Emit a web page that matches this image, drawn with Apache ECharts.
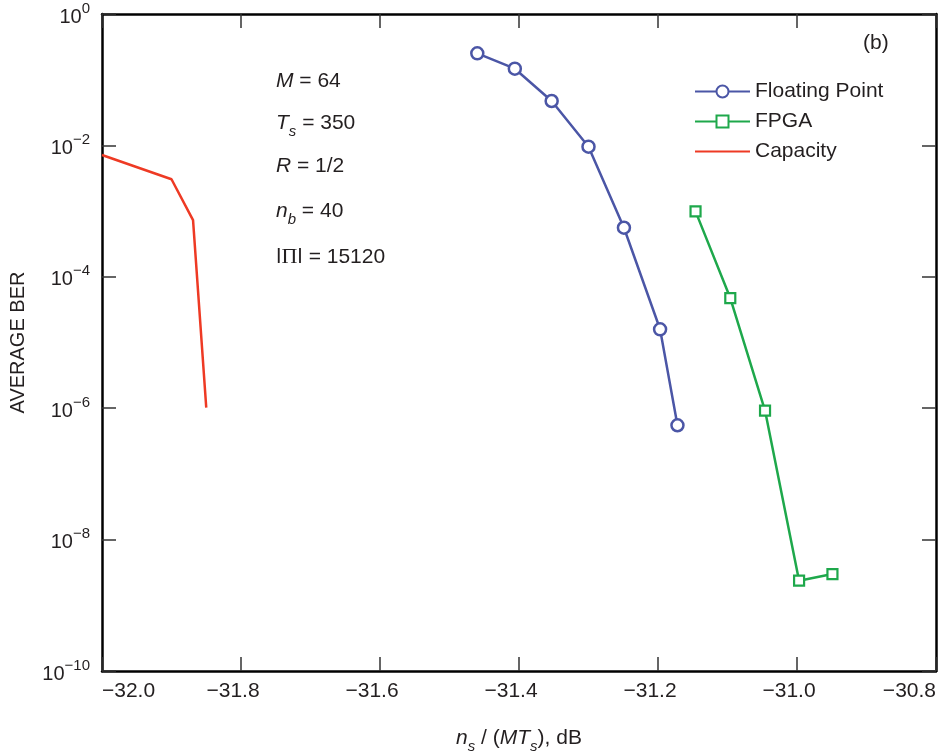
<!DOCTYPE html>
<html><head><meta charset="utf-8">
<script src="https://cdn.jsdelivr.net/npm/echarts@6/dist/echarts.min.js"></script>
<style>html,body{margin:0;padding:0;background:#fff}#c{width:939px;height:751px}</style>
</head><body><div id="c"></div>
<script>
// ---- data ----
const floatX = [-31.46, -31.406, -31.353, -31.30, -31.249, -31.197, -31.172];
const floatY = [0.252, 0.147, 0.0474, 0.00955, 5.58e-4, 1.59e-5, 5.5e-7];
const fpgaX = [-31.146, -31.096, -31.046, -30.997, -30.949];
const fpgaY = [9.9e-4, 4.75e-5, 9.2e-7, 2.37e-9, 2.99e-9];
const capX = [-32.0, -31.90, -31.869, -31.85];
const capY = [7.14e-3, 3.05e-3, 7.3e-4, 1.02e-6];
const seriesNames = ['Floating Point', 'FPGA', 'Capacity'];
const xMin = -32.0, xMax = -30.8, xStep = 0.2;
const yMin = 1e-10, yMax = 1;

const FONT = 'Liberation Sans, Arial, Helvetica, sans-serif';
const TXT = '#231f20';
const BLUE = '#4b56a6', GREEN = '#1ea84b', RED = '#ee3a24';

function pairs(xs, ys) { return xs.map((x, i) => [x, ys[i]]); }
function minusFmt(v) { return (v < 0 ? '\u2212' : '') + Math.abs(v).toFixed(1); }

const chart = echarts.init(document.getElementById('c'), null, { renderer: 'canvas' });

const axisLineStyle = { show: true, lineStyle: { color: '#000', width: 2.5 } };
const tickStyle = { show: true, inside: true, length: 14, lineStyle: { color: '#333', width: 1.5 } };

const baseRich = {
  r: { fontFamily: FONT, fontSize: 21, color: TXT, lineHeight: 24 },
  i: { fontFamily: FONT, fontSize: 21, color: TXT, fontStyle: 'italic', lineHeight: 24 },
  sub: { fontFamily: FONT, fontSize: 15, color: TXT, fontStyle: 'italic', verticalAlign: 'bottom', lineHeight: 15, padding: [0, 0, -4, 0] },
  p: { fontFamily: 'Liberation Serif, DejaVu Serif, serif', fontSize: 22, color: TXT, lineHeight: 24 }
};

const noteRich = [
  '{i|M}{r| = 64}',
  '{i|T}{sub|s}{r| = 350}',
  '{i|R}{r| = 1/2}',
  '{i|n}{sub|b}{r| = 40}',
  '{r|ǀ}{p|Π}{r|ǀ = 15120}'
];
const noteY = [83, 125, 168, 213, 258];

const option = {
  animation: false,
  backgroundColor: '#fff',
  grid: { left: 102, right: 3, top: 14, bottom: 80, containLabel: false, outerBoundsMode: 'none' },
  legend: {
    orient: 'vertical', left: 694, top: 81, padding: 0,
    itemWidth: 55, itemHeight: 15, itemGap: 9,
    textStyle: { fontFamily: FONT, fontSize: 21, color: TXT },
    data: [
      { name: seriesNames[0] },
      { name: seriesNames[1] },
      { name: seriesNames[2], itemStyle: { opacity: 0 } }
    ]
  },
  xAxis: [{
    type: 'value', position: 'bottom', min: xMin, max: xMax, interval: xStep,
    axisLine: axisLineStyle, axisTick: tickStyle, splitLine: { show: false },
    axisLabel: {
      margin: 10, alignMinLabel: 'left', alignMaxLabel: 'right',
      formatter: function (v) {
        const s = minusFmt(v);
        if (Math.abs(v - xMin) < 1e-6 || Math.abs(v - xMax) < 1e-6) return '{e|' + s + '}';
        return '{n|' + s + '}';
      },
      rich: {
        n: { fontFamily: FONT, fontSize: 21, color: TXT, padding: [0, 16, 0, 0] },
        e: { fontFamily: FONT, fontSize: 21, color: TXT }
      }
    },
    name: '{i|n}{sub|s}{r| / (}{i|MT}{sub|s}{r|), dB}',
    nameLocation: 'middle', nameGap: 55,
    nameTextStyle: { rich: baseRich }
  }, {
    type: 'value', position: 'top', min: xMin, max: xMax, interval: xStep,
    axisLine: axisLineStyle, axisTick: tickStyle, axisLabel: { show: false }, splitLine: { show: false }
  }],
  yAxis: [{
    type: 'log', logBase: 10, min: yMin, max: yMax, interval: 2, position: 'left',
    axisLine: axisLineStyle, axisTick: tickStyle, splitLine: { show: false }, minorTick: { show: false },
    axisLabel: {
      margin: 12,
      formatter: function (v) {
        const e = Math.round(Math.log10(v));
        return '{b|10}{s|' + (e < 0 ? '\u2212' : '') + Math.abs(e) + '}';
      },
      rich: {
        b: { fontFamily: FONT, fontSize: 20, color: TXT, lineHeight: 30, padding: [6, 0, 0, 0] },
        s: { fontFamily: FONT, fontSize: 15, color: TXT, lineHeight: 15, verticalAlign: 'top', padding: [2, 0, 0, 0] }
      }
    },
    name: 'AVERAGE BER', nameLocation: 'middle', nameGap: 74, nameRotate: 90,
    nameTextStyle: { fontFamily: FONT, fontSize: 20, color: TXT }
  }, {
    type: 'log', logBase: 10, min: yMin, max: yMax, interval: 2, position: 'right',
    axisLine: axisLineStyle, axisTick: tickStyle, axisLabel: { show: false }, splitLine: { show: false }
  }],
  graphic: noteRich.map((t, k) => ({
    type: 'text', left: 276, top: noteY[k] - 12, silent: true,
    style: { text: t, rich: baseRich, fill: TXT }
  })).concat([{
    type: 'text', left: 863, top: 33, silent: true,
    style: { text: '(b)', fontFamily: FONT, fontSize: 21, fill: TXT }
  }]),
  series: [{
    name: seriesNames[0], type: 'line', data: pairs(floatX, floatY),
    symbol: 'circle', symbolSize: 12, showAllSymbol: true,
    lineStyle: { color: BLUE, width: 2.5 },
    itemStyle: { color: '#fff', borderColor: BLUE, borderWidth: 2.5 },
    z: 3
  }, {
    name: seriesNames[1], type: 'line', data: pairs(fpgaX, fpgaY),
    symbol: 'rect', symbolSize: 10, showAllSymbol: true,
    lineStyle: { color: GREEN, width: 2.5 },
    itemStyle: { color: '#fff', borderColor: GREEN, borderWidth: 2.2 },
    z: 3
  }, {
    name: seriesNames[2], type: 'line', data: pairs(capX, capY),
    symbol: 'none',
    lineStyle: { color: RED, width: 2.5 },
    itemStyle: { color: RED },
    z: 3
  }]
};
chart.setOption(option);
</script></body></html>
